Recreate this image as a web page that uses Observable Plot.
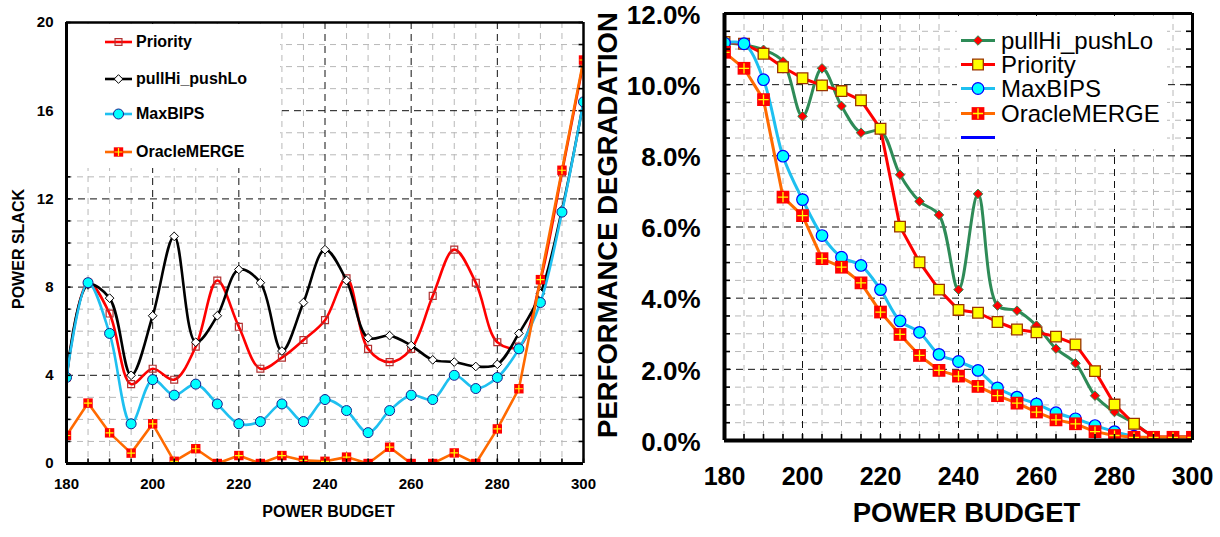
<!DOCTYPE html>
<html><head><meta charset="utf-8">
<script src="https://cdn.jsdelivr.net/npm/d3@7"></script>
<script src="https://cdn.jsdelivr.net/npm/@observablehq/plot@0.6"></script>
<style>
html,body{margin:0;padding:0;background:#fff;}
#wrap{position:relative;width:1220px;height:537px;overflow:hidden;font-family:"Liberation Sans",Arial,sans-serif;}
.panel{position:absolute;top:0;}
.legend{position:absolute;background:#fff;}
.row{position:absolute;left:0;display:flex;align-items:center;white-space:nowrap;color:#000;}
.row svg{display:block;overflow:visible;flex:none}
.row span{display:block;overflow:visible}
</style></head><body><div id="wrap"></div>
<script>
// ---------- data ----------
const budget = [180,185,190,195,200,205,210,215,220,225,230,235,240,245,250,255,260,265,270,275,280,285,290,295,300];

// left panel: POWER SLACK
const slackPriority = [3.9,8.2,6.8,3.6,4.3,3.8,5.3,8.3,6.2,4.3,4.8,5.6,6.5,8.4,5.2,4.6,5.2,7.6,9.7,8.2,5.5,5.3,8.3,13.2,18.2];
const slackPullHi   = [3.9,8.1,7.5,4.0,6.7,10.3,5.5,6.7,8.8,8.2,5.1,7.3,9.7,8.3,5.7,5.8,5.35,4.7,4.6,4.4,4.5,5.9,7.7,11.5,16.4];
const slackMaxBIPS  = [3.9,8.2,5.9,1.8,3.8,3.1,3.6,2.7,1.8,1.9,2.7,1.9,2.9,2.4,1.4,2.4,3.1,2.9,4.0,3.4,3.9,5.2,7.3,11.4,16.4];
const slackOracle   = [1.27,2.74,1.39,0.47,1.8,0.1,0.67,0.0,0.36,0.0,0.36,0.14,0.1,0.29,0.0,0.74,0.0,0.0,0.48,0.0,1.57,3.39,8.34,13.3,18.3];

// right panel: PERFORMANCE DEGRADATION (%)
const degPullHi   = [11.17,11.12,10.98,10.65,9.11,10.46,9.40,8.65,8.7,7.47,6.72,6.34,4.24,6.93,3.79,3.65,3.23,2.58,2.17,1.26,0.80,0.49,0.12,0.1,0.1];
const degPriority = [11.2,11.15,10.87,10.49,10.18,9.98,9.82,9.56,8.76,6.01,5.01,4.24,3.67,3.59,3.33,3.12,3.04,2.92,2.70,1.95,1.01,0.47,0.1,0.1,0.1];
const degMaxBIPS  = [11.17,11.15,10.14,7.99,6.77,5.76,5.15,4.92,4.24,3.36,3.04,2.42,2.22,1.97,1.48,1.22,1.03,0.78,0.61,0.42,0.25,0.12,0.05,0.03,0.03];
const degOracle   = [10.91,10.46,9.58,6.84,6.32,5.11,4.87,4.43,3.61,2.98,2.39,1.97,1.81,1.52,1.26,1.05,0.80,0.58,0.47,0.25,0.14,0.09,0.09,0.09,0.09];

// ticks / labels
const xTickLabels = [180,200,220,240,260,280,300];
const leftYTickLabels = [0,4,8,12,16,20];
const rightYTickLabels = [0,2,4,6,8,10,12];
const leftLegend = ["Priority","pullHi_pushLo","MaxBIPS","OracleMERGE"];
const rightLegend = ["pullHi_pushLo","Priority","MaxBIPS","OracleMERGE",""];
const leftXTitle = "POWER BUDGET", leftYTitle = "POWER SLACK";
const rightXTitle = "POWER BUDGET", rightYTitle = "PERFORMANCE DEGRADATION";

// ---------- helpers ----------
const FONT = '"Liberation Sans", Arial, sans-serif';
const xMinor = budget.filter(v => v % 20 !== 0);
const xMajor = budget.filter(v => v % 20 === 0 && v > 180 && v < 300);
const leftYAll = d3.range(0, 21, 1);
const leftYMinor = leftYAll.filter(v => v % 4 !== 0);
const leftYMajor = leftYAll.filter(v => v % 4 === 0 && v > 0 && v < 20);
const rightYAll = d3.range(0, 12.01, 0.5);
const rightYMinor = rightYAll.filter(v => Math.abs(v % 2) > 1e-9);
const rightYMajor = rightYAll.filter(v => Math.abs(v % 2) < 1e-9 && v > 0 && v < 12);
const X = (d, i) => budget[i];
const Y = d => d;

function frameMarks(pw, ph, xd, yd, tickLen, sw) {
  return [
    Plot.tickY(sw.yTicks, {y: Y, stroke: "#000", strokeWidth: 1.6, insetRight: pw - tickLen}),
    Plot.tickY(sw.yTicks, {y: Y, stroke: "#000", strokeWidth: 1.6, insetLeft: pw - tickLen}),
    Plot.tickX(budget, {x: Y, stroke: "#000", strokeWidth: 1.6, insetTop: ph - tickLen}),
    Plot.ruleY([yd[1]], {stroke: "#000", strokeWidth: sw.top}),
    Plot.ruleX([xd[1]], {stroke: "#000", strokeWidth: sw.right}),
    Plot.ruleX([xd[0]], {stroke: "#000", strokeWidth: sw.left}),
    Plot.ruleY([yd[0]], {stroke: "#000", strokeWidth: sw.bottom})
  ];
}

const wrap = document.getElementById("wrap");

// ---------- left panel ----------
{
  const W = 600, H = 537, ml = 66, mr = 17, mt = 22, mb = 74;
  const pw = W - ml - mr, ph = H - mt - mb;
  const xd = [180, 300], yd = [0, 20];
  const minorGrid = {stroke: "#b8b8b8", strokeOpacity: 1, strokeWidth: 1, strokeDasharray: "6,5"};
  const majorGrid = {stroke: "#111", strokeOpacity: 1, strokeWidth: 1, strokeDasharray: "7,5"};
  const chart = Plot.plot({
    width: W, height: H, marginLeft: ml, marginRight: mr, marginTop: mt, marginBottom: mb,
    x: {domain: xd, axis: null}, y: {domain: yd, axis: null},
    style: {fontFamily: FONT, background: "transparent", overflow: "visible"},
    marks: [
      Plot.gridX(xMinor, minorGrid),
      Plot.gridY(leftYMinor, minorGrid),
      Plot.gridX(xMajor, majorGrid),
      Plot.gridY(leftYMajor, majorGrid),
      // Priority
      Plot.line(slackPriority, {x: X, y: Y, stroke: "#ff0000", strokeWidth: 2.6, curve: "catmull-rom", clip: true}),
      Plot.dot(slackPriority, {x: X, y: Y, symbol: "square", r: 3.9, fill: "none", stroke: "#b03030", strokeWidth: 1.2, clip: true}),
      // pullHi_pushLo
      Plot.line(slackPullHi, {x: X, y: Y, stroke: "#000", strokeWidth: 2.6, curve: "catmull-rom", clip: true}),
      Plot.dot(slackPullHi, {x: X, y: Y, symbol: "diamond2", r: 3.9, fill: "#fff", stroke: "#000", strokeWidth: 1, clip: true}),
      // MaxBIPS
      Plot.line(slackMaxBIPS, {x: X, y: Y, stroke: "#1ec0f0", strokeWidth: 2.6, curve: "catmull-rom", clip: true}),
      Plot.dot(slackMaxBIPS, {x: X, y: Y, symbol: "circle", r: 5, fill: "#00ffff", stroke: "#1a1a8c", strokeWidth: 1, clip: true}),
      // OracleMERGE
      Plot.line(slackOracle, {x: X, y: Y, stroke: "#ff6a00", strokeWidth: 2.6, clip: true}),
      Plot.dot(slackOracle, {x: X, y: Y, symbol: "square", r: 5.3, fill: "#ff0000", stroke: "none", clip: true}),
      Plot.dot(slackOracle, {x: X, y: Y, symbol: "plus", r: 2.7, stroke: "#ffff00", strokeWidth: 1.2, clip: true}),
      ...frameMarks(pw, ph, xd, yd, 4.5, {yTicks: leftYAll, top: 2.5, right: 2.5, left: 3, bottom: 3}),
      Plot.text(leftYTickLabels, {y: Y, text: d => String(d), frameAnchor: "left", textAnchor: "end", dx: -13, fontSize: 15, fontWeight: "bold", fill: "#000"}),
      Plot.text(xTickLabels, {x: Y, text: d => String(d), frameAnchor: "bottom", dy: 25.7, fontSize: 15, fontWeight: "bold", fill: "#000"}),
      Plot.text([leftXTitle], {text: d => d, frameAnchor: "bottom", dx: 3.5, dy: 53, fontSize: 16, fontWeight: "bold", fill: "#000"}),
      Plot.text([leftYTitle], {text: d => d, frameAnchor: "left", textAnchor: "middle", rotate: -90, dx: -48, dy: 6, fontSize: 16, fontWeight: "bold", fill: "#000"})
    ]
  });
  chart.classList.add("panel");
  chart.style.left = "0px";
  wrap.appendChild(chart);
}

// ---------- right panel ----------
{
  const W = 620, H = 537, ml = 124, mr = 28, mt = 13, mb = 97;
  const pw = W - ml - mr, ph = H - mt - mb;
  const xd = [180, 300], yd = [0, 12];
  const minorGrid = {stroke: "#b8b8b8", strokeOpacity: 1, strokeWidth: 1, strokeDasharray: "6,5"};
  const majorGrid = {stroke: "#111", strokeOpacity: 1, strokeWidth: 1, strokeDasharray: "7,5"};
  const chart = Plot.plot({
    width: W, height: H, marginLeft: ml, marginRight: mr, marginTop: mt, marginBottom: mb,
    x: {domain: xd, axis: null}, y: {domain: yd, axis: null},
    style: {fontFamily: FONT, background: "transparent", overflow: "visible"},
    marks: [
      Plot.gridX(xMinor, minorGrid),
      Plot.gridY(rightYMinor, minorGrid),
      Plot.gridX(xMajor, majorGrid),
      Plot.gridY(rightYMajor, majorGrid),
      // pullHi_pushLo
      Plot.line(degPullHi, {x: X, y: Y, stroke: "#2e8b57", strokeWidth: 3, curve: "catmull-rom", clip: true}),
      Plot.dot(degPullHi, {x: X, y: Y, symbol: "diamond2", r: 4.3, fill: "#ff0000", stroke: "#2e8b57", strokeWidth: 1, clip: true}),
      // Priority
      Plot.line(degPriority, {x: X, y: Y, stroke: "#ff0000", strokeWidth: 3, clip: true}),
      Plot.dot(degPriority, {x: X, y: Y, symbol: "square", r: 6, fill: "#ffff00", stroke: "#993300", strokeWidth: 1.3, clip: true}),
      // MaxBIPS
      Plot.line(degMaxBIPS, {x: X, y: Y, stroke: "#1ec0f0", strokeWidth: 3, curve: "catmull-rom", clip: true}),
      Plot.dot(degMaxBIPS, {x: X, y: Y, symbol: "circle", r: 5.8, fill: "#00ffff", stroke: "#0000ff", strokeWidth: 1.2, clip: true}),
      // OracleMERGE
      Plot.line(degOracle, {x: X, y: Y, stroke: "#ff6a00", strokeWidth: 3, clip: true}),
      Plot.dot(degOracle, {x: X, y: Y, symbol: "square", r: 7.2, fill: "#ff0000", stroke: "none", clip: true}),
      Plot.dot(degOracle, {x: X, y: Y, symbol: "plus", r: 3.4, stroke: "#ffff00", strokeWidth: 1.3, clip: true}),
      ...frameMarks(pw, ph, xd, yd, 6, {yTicks: rightYAll, top: 3, right: 3, left: 4, bottom: 4}),
      Plot.text(rightYTickLabels, {y: Y, text: d => d.toFixed(1) + "%", frameAnchor: "left", textAnchor: "end", dx: -24, dy: 2, fontSize: 26, fontWeight: "bold", fill: "#000"}),
      Plot.text(xTickLabels, {x: Y, text: d => String(d), frameAnchor: "bottom", dy: 44, fontSize: 25, fontWeight: "bold", fill: "#000"}),
      Plot.text([rightXTitle], {text: d => d, frameAnchor: "bottom", dx: 8, dy: 81, fontSize: 27.5, fontWeight: "bold", fill: "#000"}),
      Plot.text([rightYTitle], {text: d => d, frameAnchor: "left", textAnchor: "middle", rotate: -90, dx: -116, dy: -2, fontSize: 27.5, fontWeight: "bold", fill: "#000"})
    ]
  });
  chart.classList.add("panel");
  chart.style.left = "600px";
  wrap.appendChild(chart);
}

// ---------- legends ----------
function sym(type, size) { return d3.symbol(type, size)(); }
function markerSVG(spec, w, h) {
  const cx = w / 2, cy = h / 2;
  let s = `<svg width="${w}" height="${h}" viewBox="0 0 ${w} ${h}">`;
  s += `<line x1="0" y1="${cy}" x2="${w}" y2="${cy}" stroke="${spec.line}" stroke-width="${spec.lw}"/>`;
  for (const m of spec.marks || []) {
    s += `<path transform="translate(${cx},${cy})" d="${sym(m.type, m.size)}" fill="${m.fill}" stroke="${m.stroke}" stroke-width="${m.sw}"/>`;
  }
  return s + "</svg>";
}
function area(r) { return Math.PI * r * r; }

const leftSpecs = [
  {line: "#ff0000", lw: 2.6, marks: [{type: d3.symbolSquare, size: area(3.9), fill: "none", stroke: "#b03030", sw: 1.2}]},
  {line: "#000", lw: 2.6, marks: [{type: d3.symbolDiamond2, size: area(3.9), fill: "#fff", stroke: "#000", sw: 1}]},
  {line: "#1ec0f0", lw: 2.6, marks: [{type: d3.symbolCircle, size: area(5), fill: "#00ffff", stroke: "#1a1a8c", sw: 1}]},
  {line: "#ff6a00", lw: 2.6, marks: [{type: d3.symbolSquare, size: area(5.3), fill: "#ff0000", stroke: "none", sw: 0},
                                     {type: d3.symbolPlus, size: area(2.7), fill: "none", stroke: "#ffff00", sw: 1.2}]}
];
const rightSpecs = [
  {line: "#2e8b57", lw: 3, marks: [{type: d3.symbolDiamond2, size: area(4.3), fill: "#ff0000", stroke: "#2e8b57", sw: 1}]},
  {line: "#ff0000", lw: 3, marks: [{type: d3.symbolSquare, size: area(6), fill: "#ffff00", stroke: "#993300", sw: 1.3}]},
  {line: "#1ec0f0", lw: 3, marks: [{type: d3.symbolCircle, size: area(5.8), fill: "#00ffff", stroke: "#0000ff", sw: 1.2}]},
  {line: "#ff6a00", lw: 3, marks: [{type: d3.symbolSquare, size: area(7.2), fill: "#ff0000", stroke: "none", sw: 0},
                                   {type: d3.symbolPlus, size: area(3.4), fill: "none", stroke: "#ffff00", sw: 1.3}]},
  {line: "#0000ff", lw: 3, marks: []}
];

function buildLegend(box, names, specs, rows, rowH, lineX, lineW, textX, font) {
  const div = document.createElement("div");
  div.className = "legend";
  Object.assign(div.style, {left: box.x + "px", top: box.y + "px", width: box.w + "px", height: box.h + "px"});
  names.forEach((name, i) => {
    const row = document.createElement("div");
    row.className = "row";
    row.style.top = (rows[i] - rowH / 2) + "px";
    row.style.height = rowH + "px";
    row.style.left = lineX + "px";
    row.style.font = font;
    row.innerHTML = markerSVG(specs[i], lineW, rowH) + (name ? `<span style="margin-left:${textX - lineX - lineW}px;line-height:${rowH}px;height:${rowH}px">${name}</span>` : "");
    div.appendChild(row);
  });
  wrap.appendChild(div);
}

buildLegend({x: 68, y: 24, w: 212, h: 144}, leftLegend, leftSpecs, [17.7, 55, 90.3, 127.7], 24, 37, 27, 68, `bold 16px ${FONT}`);
buildLegend({x: 957, y: 15.5, w: 210, h: 133}, rightLegend, rightSpecs, [25, 48.5, 73, 98, 122], 23, 4, 34, 44, `24px ${FONT}`);
</script>
</body></html>
